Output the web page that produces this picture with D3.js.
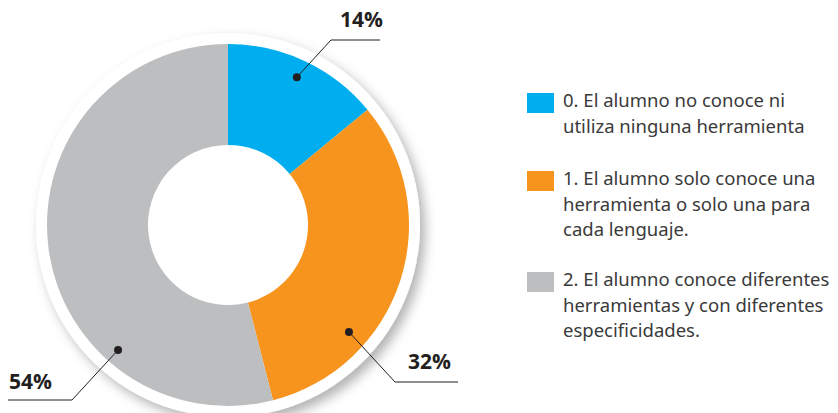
<!DOCTYPE html>
<html>
<head>
<meta charset="utf-8">
<script src="https://cdn.jsdelivr.net/npm/d3@7"></script>
<style>
  body { margin: 0; background: #fff; }
  svg { display: block; }
</style>
</head>
<body>
<svg width="838" height="413"></svg>
<script>
// data
const categories = ["0", "1", "2"];
const shares = [14, 32, 54];
const colors = ["#00aeef", "#f7941d", "#bcbec0"];
const legendLines = [
  ["0. El alumno no conoce ni", "utiliza ninguna herramienta"],
  ["1. El alumno solo conoce una", "herramienta o solo una para", "cada lenguaje."],
  ["2. El alumno conoce diferentes", "herramientas y con diferentes", "especificidades."]
];

let svg = d3.select('svg');
let cx = 228, cy = 225;
let outerR = 181, innerR = 80, ringR = 192;

let defs = svg.append('defs');
let filter = defs.append('filter')
  .attr('id', 'shadow')
  .attr('x', '-20%').attr('y', '-20%')
  .attr('width', '140%').attr('height', '140%');
filter.append('feDropShadow')
  .attr('dx', 5).attr('dy', 6)
  .attr('stdDeviation', 6)
  .attr('flood-color', '#000')
  .attr('flood-opacity', 0.3);

let g = svg.append('g').attr('transform', `translate(${cx},${cy})`);

// white ring behind the donut, with soft shadow
g.append('circle')
  .attr('r', ringR)
  .attr('fill', '#fff')
  .attr('filter', 'url(#shadow)');

let pie = d3.pie().sort(null).value(d => d);
let arcs = pie(shares);
let arc = d3.arc().innerRadius(innerR).outerRadius(outerR);

g.selectAll('path.slice')
  .data(arcs)
  .join('path')
  .attr('class', 'slice')
  .attr('d', arc)
  .attr('fill', (d, i) => colors[i]);

// callouts: dot placed at (angle, radius) inside the slice, then elbow + horizontal rule
let callouts = [
  { angle: 0.436, r: 163, elbow: [331, 40], end: 380, anchor: 'end', tx: 383, ty: 27 },
  { angle: 2.295, r: 161.5, elbow: [395, 382], end: 458, anchor: 'end', tx: 451, ty: 369 },
  { angle: 3.863, r: 166.5, elbow: [72, 400], end: 8, anchor: 'start', tx: 9, ty: 389 }
];

arcs.forEach((a, i) => {
  let c = callouts[i];
  let px = cx + c.r * Math.sin(c.angle);
  let py = cy - c.r * Math.cos(c.angle);
  svg.append('polyline')
    .attr('points', [[px, py], c.elbow, [c.end, c.elbow[1]]].map(p => p.join(',')).join(' '))
    .attr('fill', 'none')
    .attr('stroke', '#231f20')
    .attr('stroke-width', 1);
  svg.append('circle')
    .attr('cx', px).attr('cy', py).attr('r', 4)
    .attr('fill', '#231f20');
  svg.append('text')
    .attr('x', c.tx).attr('y', c.ty)
    .attr('text-anchor', c.anchor)
    .attr('font-family', 'Open Sans, sans-serif')
    .attr('font-weight', 700)
    .attr('font-size', 21)
    .attr('fill', '#231f20')
    .text(a.data + '%');
});

// legend
let baselines = [107, 185, 286];
let legend = svg.append('g');
categories.forEach((c, i) => {
  let y0 = baselines[i];
  legend.append('rect')
    .attr('x', 527).attr('y', y0 - 14)
    .attr('width', 27).attr('height', 20)
    .attr('fill', colors[i]);
  let t = legend.append('text')
    .attr('x', 563).attr('y', y0)
    .attr('font-family', 'Noto Sans, sans-serif')
    .attr('font-size', 18.5)
    .attr('fill', '#3a3a3a');
  legendLines[i].forEach((line, j) => {
    t.append('tspan')
      .attr('x', 563)
      .attr('y', y0 + j * 25.5)
      .text(line);
  });
});
</script>
</body>
</html>
